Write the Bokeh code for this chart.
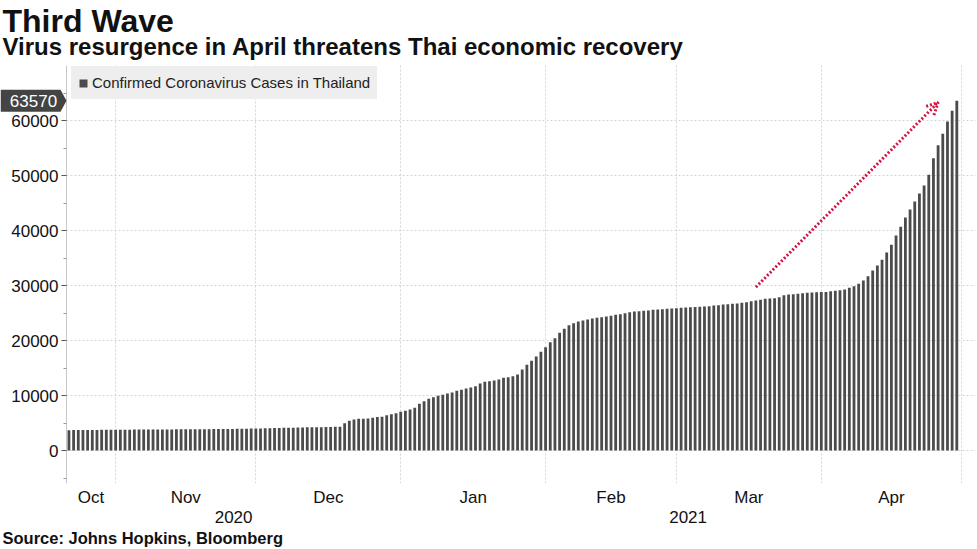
import pandas as pd
from bokeh.plotting import figure
from bokeh.models import (Range1d, FixedTicker, LinearAxis, Grid, Title, Label,
                          Arrow, OpenHead, ColumnDataSource, PolyAnnotation)
from bokeh.embed import file_html
from bokeh.resources import INLINE

# ---------------- data ----------------
oct_cases = [3700, 3709, 3719, 3727, 3734, 3743, 3750, 3759, 3766, 3780]
nov_cases = [3784, 3787, 3790, 3795, 3797, 3802, 3810, 3813, 3819, 3823,
             3827, 3831, 3839, 3842, 3851, 3855, 3856, 3860, 3866, 3874,
             3880, 3893, 3898, 3902, 3910, 3920, 3937, 3947, 3961, 3998]
dec_cases = [4009, 4017, 4037, 4060, 4074, 4107, 4121, 4133, 4144, 4180,
             4199, 4216, 4221, 4237, 4246, 4261, 4281, 4297, 4331,
             4970, 5394, 5636, 5762, 5779, 5811, 5939, 6101, 6141, 6424, 6606, 6788]
jan_cases = [7030, 7212, 7455, 7758, 8485, 8970, 9394, 9697, 9939, 10121,
             10364, 10545, 10848, 11030, 11273, 11455, 11697, 12182, 12485, 12606,
             12727, 12909, 13212, 13333, 13515, 13818, 14727, 15576, 16303, 17091, 17939]
feb_cases = [18788, 19697, 20424, 21394, 22120, 22790, 23150, 23450, 23640, 23820,
             24000, 24120, 24240, 24360, 24480, 24670, 24790, 24970, 25150, 25270,
             25330, 25390, 25450, 25570, 25640, 25700, 25760, 25820]
mar_cases = [25879, 25939, 26000, 26061, 26090, 26121, 26182, 26242, 26364, 26424,
             26545, 26606, 26667, 26727, 26848, 26970, 27152, 27273, 27394, 27576,
             27636, 27697, 27879, 28242, 28364, 28424, 28485, 28606, 28667, 28727, 28788]
apr_cases = [28800, 28830, 28970, 29030, 29150, 29270, 29576, 29880, 30300, 30910,
             31700, 32730, 33640, 34670, 36000, 37390, 39090, 40670, 42360, 43820,
             45270, 46730, 48180, 50120, 53150, 55520, 57580, 59820, 61760, 63570]

first_day = "2020-10-22"
last_day = "2021-04-30"

month_labels = ["Oct", "Nov", "Dec", "Jan", "Feb", "Mar", "Apr"]
year_labels = ["2020", "2021"]
y_ticks = [0, 10000, 20000, 30000, 40000, 50000, 60000]
y_minor = [-5000, 5000, 15000, 25000, 35000, 45000, 55000, 65000]
y_low, y_high = -6000, 70000

series_name = "Confirmed Coronavirus Cases in Thailand"
title_text = "Third Wave"
subtitle_text = "Virus resurgence in April threatens Thai economic recovery"
source_text = "Source: Johns Hopkins, Bloomberg"

arrow_from = ("2021-03-18", 29700)
arrow_to = ("2021-04-26", 63300)

# ---------------- layout helpers ----------------
def ms(ts):
    return int(pd.Timestamp(ts).value // 10**6)

cases = oct_cases + nov_cases + dec_cases + jan_cases + feb_cases + mar_cases + apr_cases
dates = pd.date_range(first_day, last_day, freq="D")
assert len(dates) == len(cases)

DAY = 86400000
AXIS_PX = 66          # x of the value axis in the canvas
PLOT_PX = 909         # width of the charted area right of the axis
TOP_PX = 65           # height of the heading area above the charted area
PLOT_H = 418          # height of the charted area

x_axis_at = ms("2020-10-21 11:30")
x_end = ms("2021-05-04")
mpp = (x_end - x_axis_at) / PLOT_PX
x_frame_start = x_axis_at - AXIS_PX * mpp

ypp = (y_high - y_low) / PLOT_H
y_frame_top = y_high + TOP_PX * ypp

def y_at(px):
    """data y of a canvas row (px from top)"""
    return y_high + (TOP_PX - px) * ypp

month_starts = [ms(d) for d in pd.date_range("2020-11-01", "2021-05-01", freq="MS")]
bounds = [x_axis_at] + month_starts
month_mid = [int((a + b) // 2) for a, b in zip(bounds[:-1], bounds[1:])]
jan1 = ms("2021-01-01")
year_mid = [int((x_axis_at + jan1) // 2), int((jan1 + x_end) // 2)]

FONT = "Liberation Sans"
BAR = "#4b4b4b"
GRID = "#d4d4d4"
TXT = "#111111"

src = ColumnDataSource(dict(date=dates, cases=cases))

p = figure(x_axis_type=None,
           x_range=Range1d(x_frame_start, x_end), y_range=Range1d(y_low, y_frame_top),
           frame_width=AXIS_PX + PLOT_PX, frame_height=TOP_PX + PLOT_H,
           min_border_left=0, min_border_right=2, min_border_top=0, min_border_bottom=0,
           toolbar_location=None, output_backend="svg",
           background_fill_color="white", border_fill_color="white",
           outline_line_color=None)

p.vbar(x="date", top="cases", width=0.6 * DAY, source=src,
       fill_color=BAR, line_color=None, legend_label=series_name)

# grids
p.ygrid.ticker = FixedTicker(ticks=y_ticks)
p.ygrid.grid_line_color = GRID
p.ygrid.grid_line_dash = "2 2"
p.ygrid.cross_bounds = (x_axis_at, x_end)
xgrid = Grid(dimension=0, ticker=FixedTicker(ticks=month_starts),
             grid_line_color=GRID, grid_line_dash="2 2",
             cross_bounds=(y_low, y_high))
p.add_layout(xgrid)

# y axis, drawn inside the canvas at the start of the charted area
ya = p.yaxis[0]
ya.fixed_location = x_axis_at
ya.bounds = (y_low, y_high)
ya.ticker = FixedTicker(ticks=y_ticks, minor_ticks=y_minor)
ya.axis_line_color = "#c8c8c8"
ya.major_tick_line_color = "#555555"
ya.minor_tick_line_color = "#999999"
ya.major_tick_out = 5
ya.major_tick_in = 0
ya.minor_tick_out = 3
ya.minor_tick_in = 0
ya.major_label_standoff = 3
ya.major_label_text_font = FONT
ya.major_label_text_font_size = "17px"
ya.major_label_text_color = TXT

# month axis
month_axis = LinearAxis(ticker=FixedTicker(ticks=month_mid, minor_ticks=[]),
                        major_label_overrides=dict(zip(month_mid, month_labels)),
                        axis_line_color=None, major_tick_line_color=None,
                        minor_tick_line_color=None, major_tick_out=0, major_tick_in=0,
                        major_label_standoff=4, major_label_text_font=FONT,
                        major_label_text_font_size="17px", major_label_text_color=TXT)
p.add_layout(month_axis, "below")

year_axis = LinearAxis(ticker=FixedTicker(ticks=year_mid, minor_ticks=[]),
                       major_label_overrides=dict(zip(year_mid, year_labels)),
                       axis_line_color=None, major_tick_line_color=None,
                       minor_tick_line_color=None, major_tick_out=0, major_tick_in=0,
                       major_label_standoff=1, major_label_text_font=FONT,
                       major_label_text_font_size="17px", major_label_text_color=TXT)
p.add_layout(year_axis, "below")

p.add_layout(Title(text=source_text, align="left", offset=2, standoff=2,
                   text_font=FONT, text_font_size="16.5px", text_font_style="bold",
                   text_color=TXT), "below")

# headings (rows chosen so the baselines land at 31 px and 54 px)
p.add_layout(Label(x=x_frame_start, x_offset=2, y=y_at(20), text=title_text,
                   text_align="left", text_baseline="alphabetic",
                   text_font=FONT, text_font_size="32px", text_font_style="bold",
                   text_color=TXT))
p.add_layout(Label(x=x_frame_start, x_offset=2, y=y_at(46), text=subtitle_text,
                   text_align="left", text_baseline="alphabetic",
                   text_font=FONT, text_font_size="24px", text_font_style="bold",
                   text_color=TXT))

# legend
lg = p.legend[0]
lg.location = (AXIS_PX + 5, TOP_PX + PLOT_H - 68 - 31)
lg.margin = 0
lg.padding = 6
lg.spacing = 0
lg.label_text_font = FONT
lg.label_text_font_size = "15px"
lg.label_text_color = "#222222"
lg.label_height = 19
lg.glyph_height = 10
lg.glyph_width = 10
lg.label_standoff = 4
lg.background_fill_color = "#eeeeee"
lg.background_fill_alpha = 1.0
lg.border_line_color = "#eeeeee"
lg.border_line_width = 1

# arrow
p.add_layout(Arrow(x_start=ms(arrow_from[0]), y_start=arrow_from[1],
                   x_end=ms(arrow_to[0]), y_end=arrow_to[1],
                   line_color="#d0143f", line_width=3, line_dash="2 2",
                   end=OpenHead(size=12, line_color="#d0143f", line_width=3,
                                line_dash="2 2")))

# last value tag
last_val = cases[-1]
half_h = 2000
p.add_layout(PolyAnnotation(
    xs=[x_frame_start, x_axis_at - 6 * mpp, x_axis_at, x_axis_at - 6 * mpp, x_frame_start],
    ys=[last_val + half_h, last_val + half_h, last_val, last_val - half_h, last_val - half_h],
    fill_color="#444444", fill_alpha=1.0, line_color=None))
p.add_layout(Label(x=x_axis_at, y=last_val, x_offset=-33, text=f"{last_val}",
                   text_align="center", text_baseline="middle",
                   text_font=FONT, text_font_size="17px", text_color="white"))

open("out.html", "w").write(file_html(p, INLINE))
